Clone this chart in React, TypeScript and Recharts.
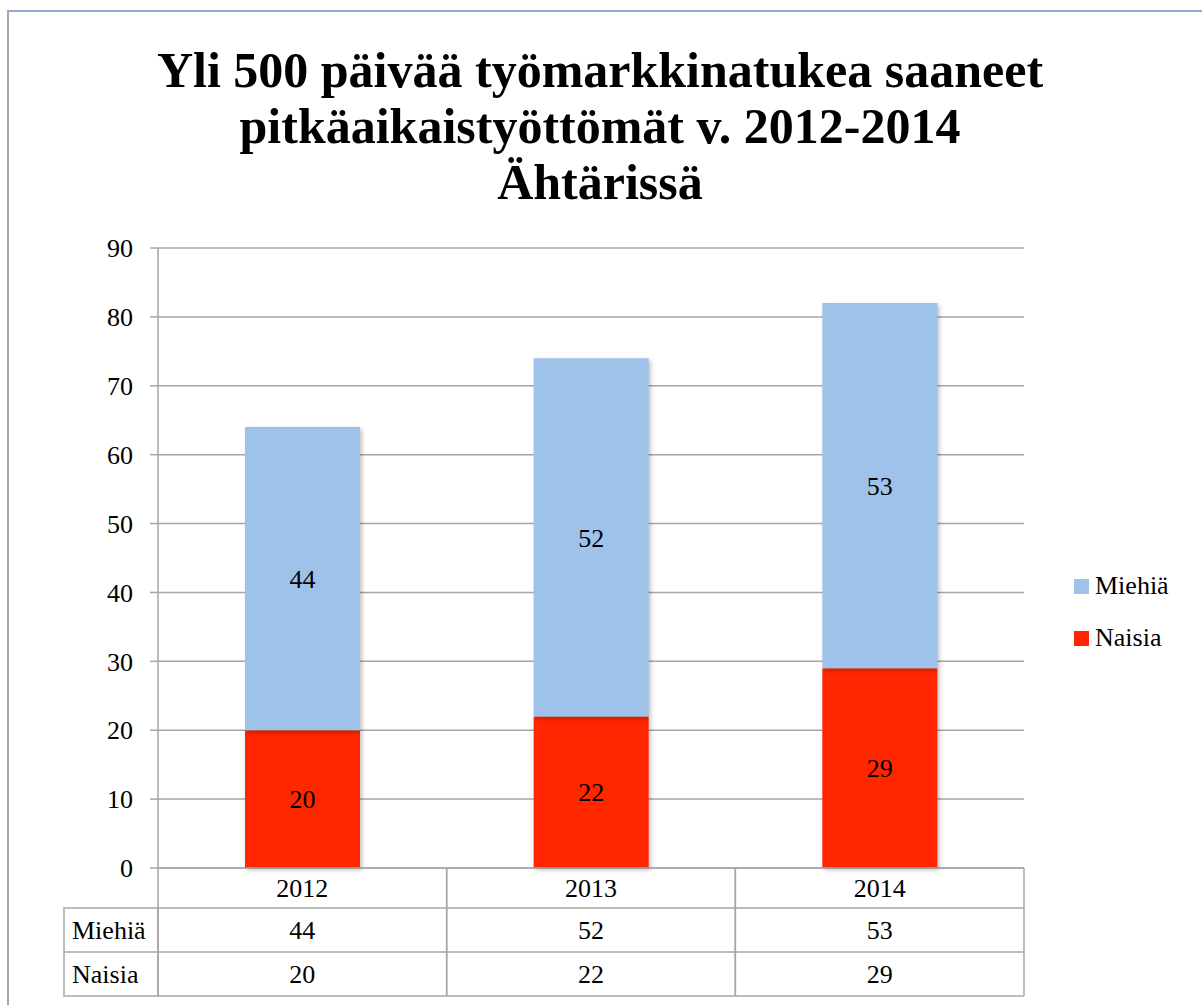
import { BarChart, Bar, XAxis, YAxis, CartesianGrid, Legend, LabelList } from 'recharts'

const years = ['2012', '2013', '2014']
const miehia = [44, 52, 53]
const naisia = [20, 22, 29]
const yTicks = [0, 10, 20, 30, 40, 50, 60, 70, 80, 90]
const titleLines = [
  'Yli 500 päivää työmarkkinatukea saaneet',
  'pitkäaikaistyöttömät v. 2012-2014',
  'Ähtärissä',
]

const data = years.map((year, i) => ({ year, Miehiä: miehia[i], Naisia: naisia[i] }))

const FONT = "'Liberation Serif', 'Times New Roman', 'DejaVu Serif', serif"
const GRID = '#a6a6a6'
const BLUE = '#9fc2ea'
const RED = '#ff2600'
const FS = 26

const HEADER_H = 40
const ROW_H = 44
const LABEL_COL_W = 94

interface TickProps {
  x: number
  y: number
  payload: { value: string; index: number; offset: number }
}

// each category tick draws its own column of the data table under the chart
function TableTick({ x, y, payload }: TickProps) {
  const half = payload.offset
  const left = x - half
  const right = x + half
  const bottom = y + HEADER_H + ROW_H * 2
  const i = payload.index
  const rowsY = [y + HEADER_H, y + HEADER_H + ROW_H]
  const txt = { fontSize: FS, fontFamily: FONT, fill: '#000' }
  return (
    <g>
      <line x1={left} y1={y} x2={left} y2={bottom} stroke={GRID} strokeWidth={1.5} />
      <line x1={right} y1={y} x2={right} y2={bottom} stroke={GRID} strokeWidth={1.5} />
      {rowsY.map((ry) => (
        <line key={ry} x1={left} y1={ry} x2={right} y2={ry} stroke={GRID} strokeWidth={1.5} />
      ))}
      <line x1={left} y1={bottom} x2={right} y2={bottom} stroke={GRID} strokeWidth={1.5} />
      <text x={x} y={y + HEADER_H / 2} textAnchor="middle" dominantBaseline="central" {...txt}>
        {payload.value}
      </text>
      <text x={x} y={rowsY[0] + ROW_H / 2} textAnchor="middle" dominantBaseline="central" {...txt}>
        {miehia[i]}
      </text>
      <text x={x} y={rowsY[1] + ROW_H / 2} textAnchor="middle" dominantBaseline="central" {...txt}>
        {naisia[i]}
      </text>
      {i === 0 && (
        <g>
          <rect x={left - LABEL_COL_W} y={rowsY[0]} width={LABEL_COL_W} height={ROW_H * 2} fill="none" stroke={GRID} strokeWidth={1.5} />
          <line x1={left - LABEL_COL_W} y1={rowsY[1]} x2={left} y2={rowsY[1]} stroke={GRID} strokeWidth={1.5} />
          <text x={left - LABEL_COL_W + 8} y={rowsY[0] + ROW_H / 2} dominantBaseline="central" {...txt}>
            Miehiä
          </text>
          <text x={left - LABEL_COL_W + 8} y={rowsY[1] + ROW_H / 2} dominantBaseline="central" {...txt}>
            Naisia
          </text>
        </g>
      )}
    </g>
  )
}

function LegendContent() {
  const items = [
    { name: 'Miehiä', color: BLUE },
    { name: 'Naisia', color: RED },
  ]
  return (
    <div style={{ fontFamily: FONT, fontSize: FS }}>
      {items.map((it) => (
        <div key={it.name} style={{ display: 'flex', alignItems: 'center', height: 52 }}>
          <span style={{ width: 15, height: 15, background: it.color, marginRight: 6 }} />
          <span>{it.name}</span>
        </div>
      ))}
    </div>
  )
}

export default function App() {
  return (
    <div style={{ position: 'absolute', left: 0, top: 0, width: 1202, height: 1005, background: '#fff', overflow: 'hidden' }}>
      <style>{`.recharts-bar-rectangle path { filter: drop-shadow(2px 2px 2px rgba(0,0,0,0.25)); }`}</style>
      <div
        style={{
          position: 'absolute',
          left: 7,
          top: 10,
          width: 1220,
          height: 1020,
          borderTop: '2px solid #8eaad2',
          borderLeft: '2px solid #a6a6a6',
        }}
      />
      <div
        style={{
          position: 'absolute',
          left: 0,
          top: 42,
          width: 1200,
          textAlign: 'center',
          fontFamily: FONT,
          fontWeight: 'bold',
          fontSize: 50,
          lineHeight: '56px',
        }}
      >
        {titleLines.map((l) => (
          <div key={l}>{l}</div>
        ))}
      </div>
      <div style={{ position: 'absolute', left: 0, top: 0 }}>
        <BarChart
          width={1202}
          height={1005}
          data={data}
          barSize={115}
          margin={{ top: 248, right: 178, bottom: 9, left: 98 }}
        >
          <CartesianGrid horizontal vertical={false} stroke={GRID} strokeWidth={1.5} />
          <XAxis
            dataKey="year"
            height={128}
            tickSize={0}
            tickMargin={0}
            axisLine={{ stroke: GRID, strokeWidth: 1.5 }}
            tick={(props: TickProps) => <TableTick {...props} />}
            interval={0}
          />
          <YAxis
            width={60}
            domain={[0, 90]}
            ticks={yTicks}
            interval={0}
            tickSize={8}
            tickMargin={17}
            axisLine={{ stroke: GRID, strokeWidth: 1.5 }}
            tickLine={{ stroke: GRID, strokeWidth: 1.5 }}
            tick={{ fill: '#000', fontSize: FS, fontFamily: FONT }}
          />
          <Legend
            layout="horizontal"
            verticalAlign="middle"
            align="center"
            wrapperStyle={{ left: 1074, top: 560, width: 128 }}
            content={<LegendContent />}
          />
          <Bar dataKey="Naisia" stackId="a" fill={RED} isAnimationActive={false}>
            <LabelList dataKey="Naisia" position="center" fill="#000" fontSize={FS} fontFamily={FONT} />
          </Bar>
          <Bar dataKey="Miehiä" stackId="a" fill={BLUE} isAnimationActive={false}>
            <LabelList dataKey="Miehiä" position="center" fill="#000" fontSize={FS} fontFamily={FONT} />
          </Bar>
        </BarChart>
      </div>
    </div>
  )
}
